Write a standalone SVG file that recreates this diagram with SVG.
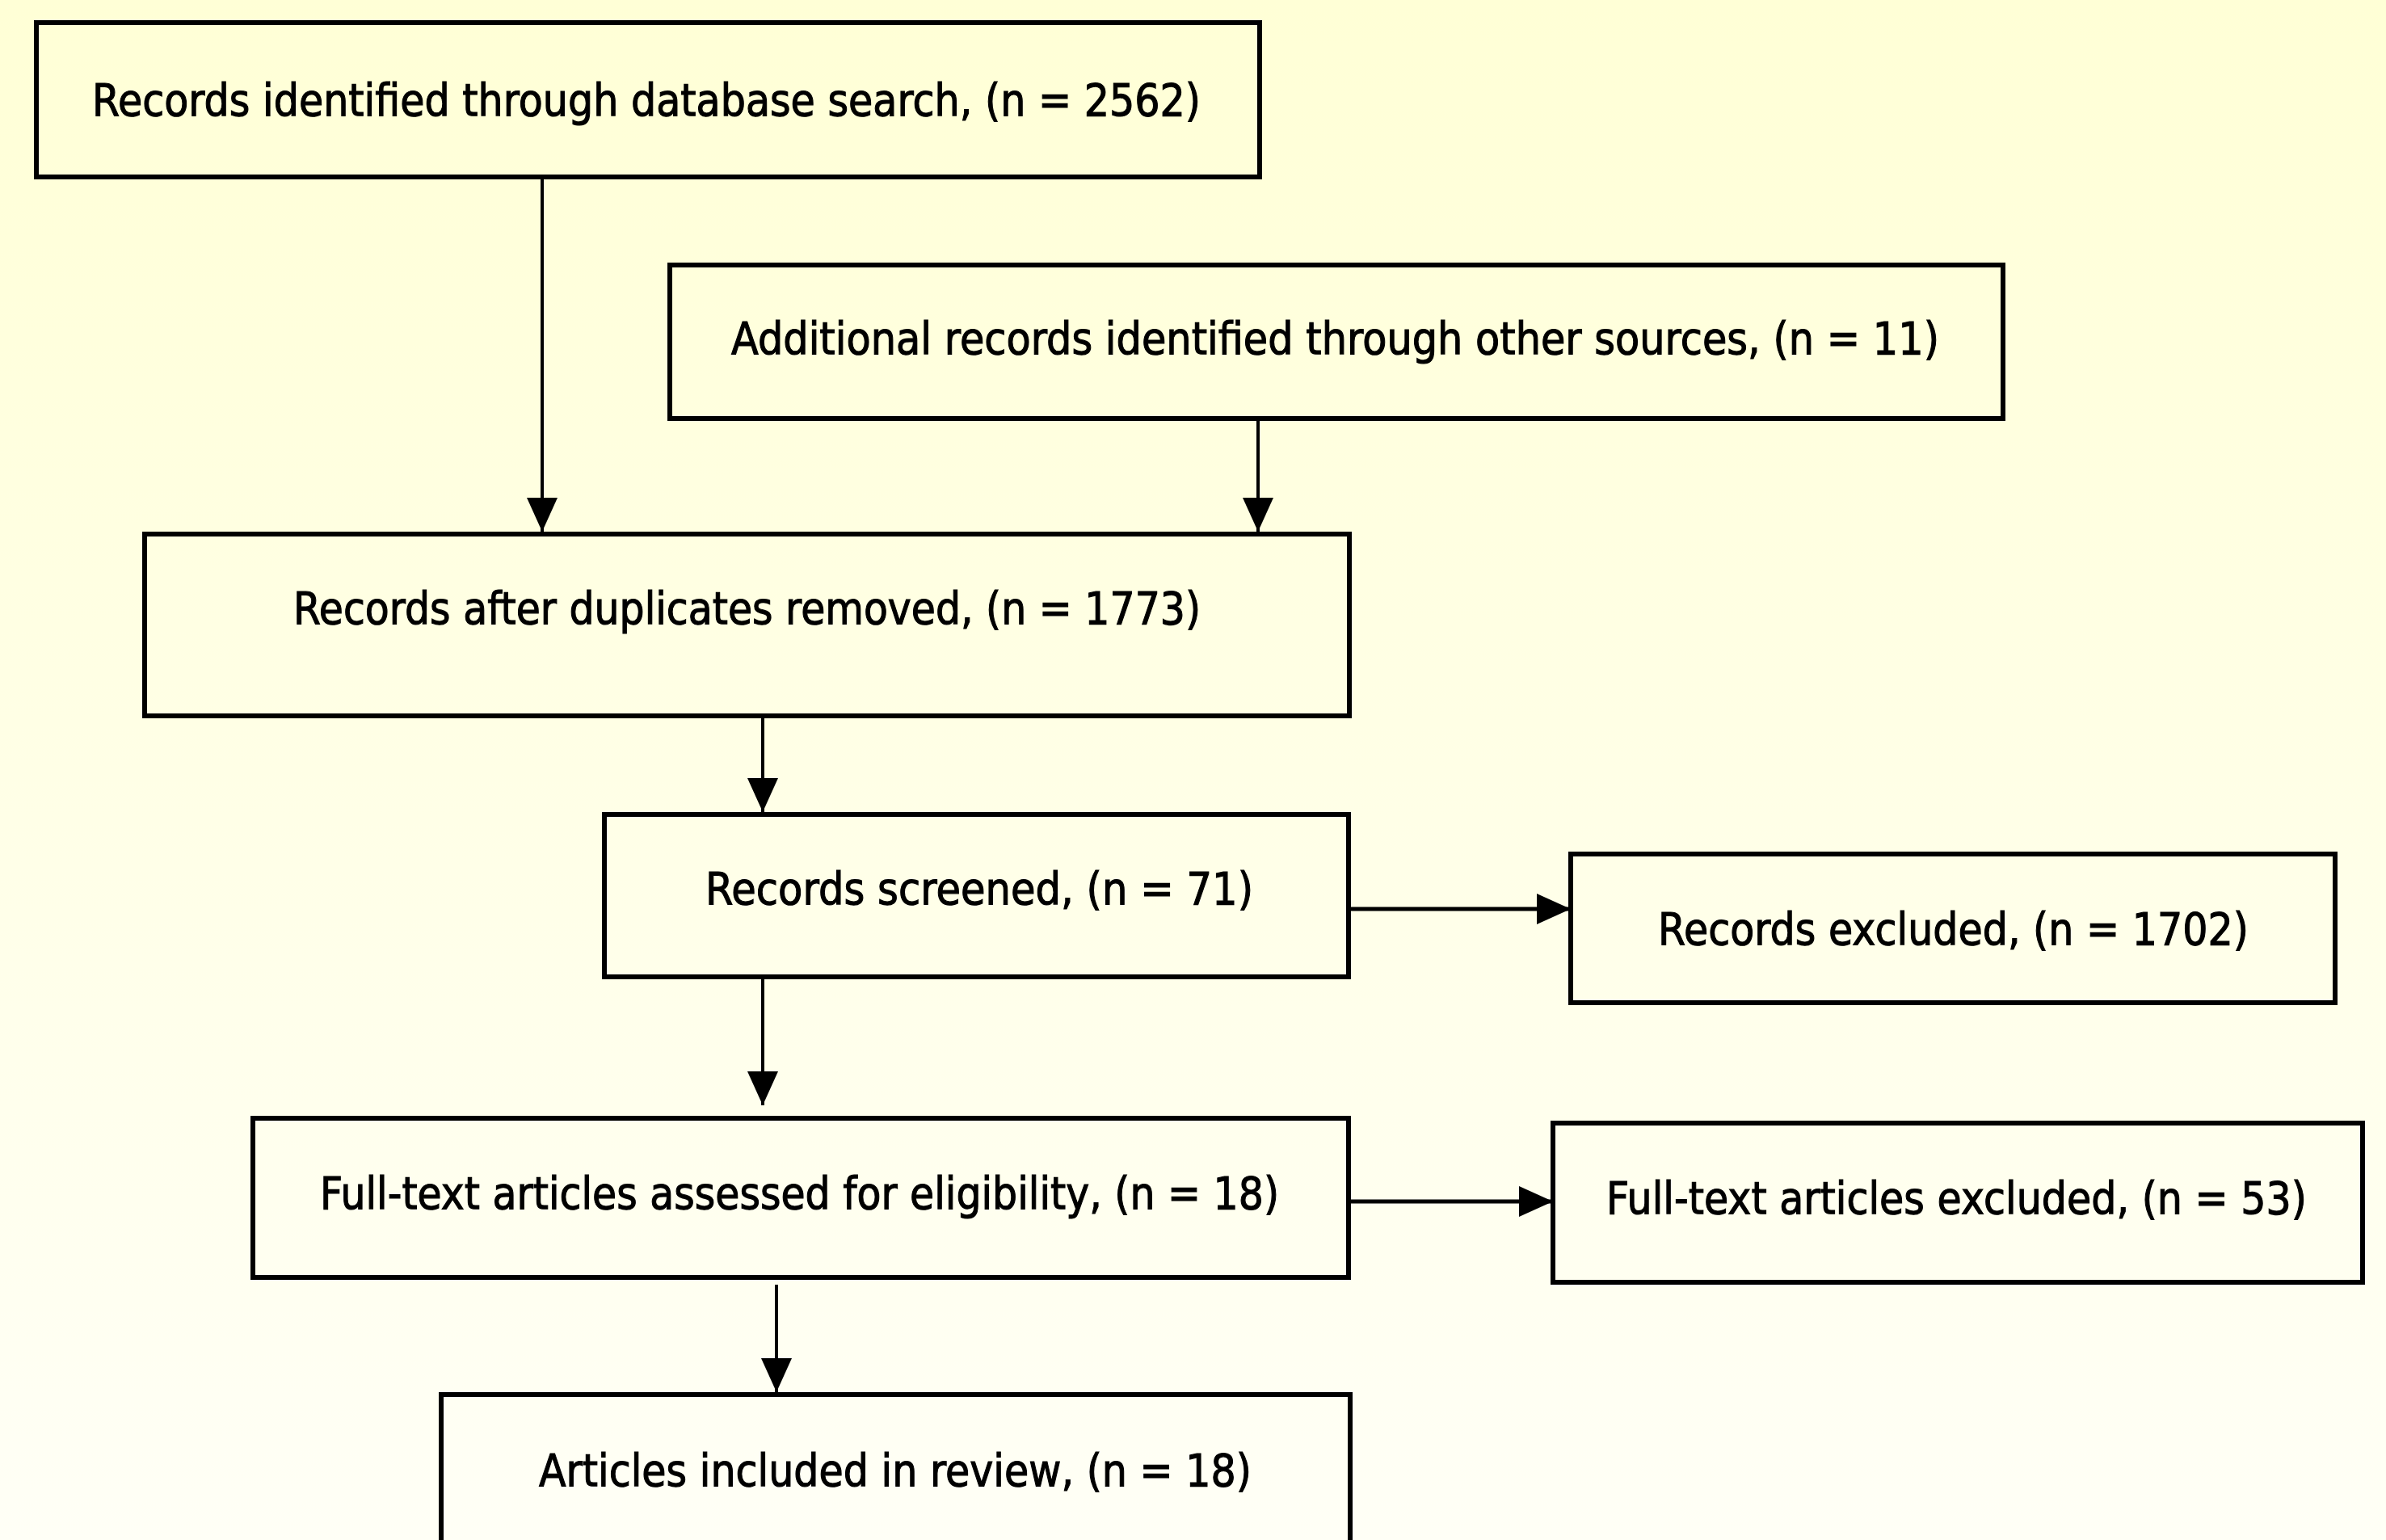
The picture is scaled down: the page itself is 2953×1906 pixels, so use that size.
<svg xmlns="http://www.w3.org/2000/svg" width="2953" height="1906" viewBox="0 0 2953 1906">
<defs>
<linearGradient id="bg" x1="0" y1="0" x2="0" y2="1">
<stop offset="0" stop-color="#FFFFD6"/>
<stop offset="1" stop-color="#FFFFF6"/>
</linearGradient>
<marker id="ah" markerUnits="userSpaceOnUse" markerWidth="44" markerHeight="42" refX="42" refY="20" orient="auto">
<path d="M0,1 L42,20 L0,39 Z" fill="#000"/>
</marker>
<style>
.box{fill:none;stroke:#000;stroke-width:6}
.t{font-family:"DejaVu Sans","Liberation Sans",sans-serif;font-size:56px;fill:#000;stroke:#000;stroke-width:1.2}
.c{fill:none;stroke:#000;stroke-width:4;marker-end:url(#ah)}
.ch{fill:none;stroke:#000;stroke-width:5;marker-end:url(#ah)}
</style>
</defs>
<rect x="0" y="0" width="2953" height="1906" fill="url(#bg)"/>
<g id="connectors">
<line class="c" x1="671" y1="219" x2="671" y2="658"/>
<line class="c" x1="1557" y1="518" x2="1557" y2="658"/>
<line class="c" x1="944" y1="886" x2="944" y2="1005"/>
<line class="c" x1="944" y1="1209" x2="944" y2="1368"/>
<line class="ch" x1="1669" y1="1125" x2="1944" y2="1125"/>
<line class="ch" x1="1669" y1="1487" x2="1922" y2="1487"/>
<line class="c" x1="961" y1="1590" x2="961" y2="1723"/>
</g>
<g id="n1">
<rect class="box" x="45" y="28" width="1514" height="191"/>
<text class="t" x="114" y="143" textLength="1372" lengthAdjust="spacingAndGlyphs">Records identified through database search, (n = 2562)</text>
</g>
<g id="n2">
<rect class="box" x="829" y="328" width="1650" height="190"/>
<text class="t" x="905" y="438" textLength="1495" lengthAdjust="spacingAndGlyphs">Additional records identified through other sources, (n = 11)</text>
</g>
<g id="n3">
<rect class="box" x="179" y="661" width="1491" height="225"/>
<text class="t" x="363" y="772" textLength="1123" lengthAdjust="spacingAndGlyphs">Records after duplicates removed, (n = 1773)</text>
</g>
<g id="n4">
<rect class="box" x="748" y="1008" width="921" height="201"/>
<text class="t" x="873" y="1119" textLength="678" lengthAdjust="spacingAndGlyphs">Records screened, (n = 71)</text>
</g>
<g id="n5">
<rect class="box" x="1944" y="1057" width="946" height="184"/>
<text class="t" x="2052" y="1169" textLength="731" lengthAdjust="spacingAndGlyphs">Records excluded, (n = 1702)</text>
</g>
<g id="n6">
<rect class="box" x="313" y="1384" width="1356" height="197"/>
<text class="t" x="396" y="1496" textLength="1187" lengthAdjust="spacingAndGlyphs">Full-text articles assessed for eligibility, (n = 18)</text>
</g>
<g id="n7">
<rect class="box" x="1922" y="1390" width="1002" height="197"/>
<text class="t" x="1988" y="1502" textLength="867" lengthAdjust="spacingAndGlyphs">Full-text articles excluded, (n = 53)</text>
</g>
<g id="n8">
<rect class="box" x="546" y="1726" width="1125" height="250"/>
<text class="t" x="667" y="1839" textLength="882" lengthAdjust="spacingAndGlyphs">Articles included in review, (n = 18)</text>
</g>
</svg>
